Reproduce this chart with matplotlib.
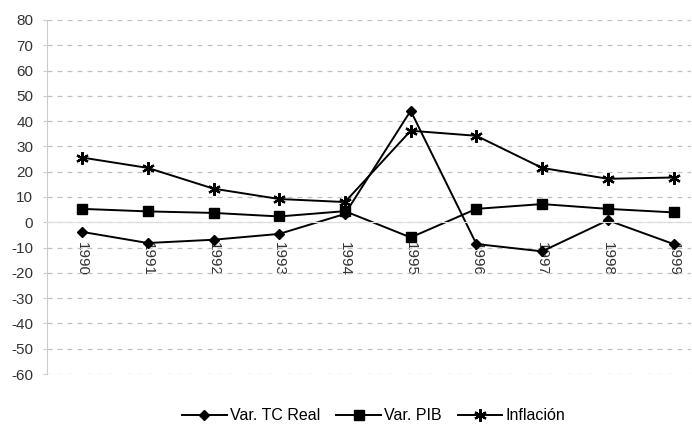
import matplotlib
matplotlib.use('Agg')
import matplotlib.pyplot as plt
import numpy as np

years = ['1990', '1991', '1992', '1993', '1994', '1995', '1996', '1997', '1998', '1999']
tc_real = [-3.8, -8.2, -6.9, -4.6, 3.3, 44.1, -8.6, -11.5, 0.8, -8.6]
pib = [5.3, 4.3, 3.7, 2.3, 4.4, -6.0, 5.3, 7.2, 5.3, 3.9]
inflacion = [25.6, 21.5, 13.3, 9.2, 8.0, 36.2, 34.2, 21.5, 17.2, 17.7]

plt.rcParams['font.family'] = ['Liberation Sans', 'DejaVu Sans']
plt.rcParams['axes.unicode_minus'] = False

fig = plt.figure(figsize=(6.92, 4.25), dpi=100)
ax = fig.add_axes([0.068, 0.12, 0.93, 0.833])

x = np.arange(len(years))
ax.plot(x, tc_real, color='black', lw=1.4, marker='D', ms=5.5, label='Var. TC Real')
ax.plot(x, pib, color='black', lw=1.4, marker='s', ms=7, label='Var. PIB')
ax.plot(x, inflacion, color='black', lw=1.4, marker=(6, 2, 0), ms=9, mew=1.6, label='Inflación')

ax.set_ylim(-60, 80)
ax.set_xlim(-0.533, 9.26)
ax.set_yticks(np.arange(-60, 81, 10))
ax.yaxis.grid(True, color='#c0c0c0', ls=(0, (4, 4)), lw=0.9)
ax.set_axisbelow(True)

ax.spines['bottom'].set_position(('data', 0))
ax.spines['bottom'].set_color('#dddddd')
for s in ('top', 'right'):
    ax.spines[s].set_visible(False)
ax.spines['left'].set_color('#cccccc')

ax.set_xticks(x)
ax.set_xticklabels(years)
for lbl in ax.get_xticklabels():
    lbl.set_rotation(-90)
    lbl.set_va('top')
    lbl.set_ha('center')
ax.tick_params(axis='x', length=0, pad=14, labelsize=11, labelcolor='#333333')
ax.tick_params(axis='y', length=3, color='#cccccc', labelsize=11, labelcolor='#333333', pad=7)

fig.legend(loc='lower center', bbox_to_anchor=(0.54, -0.03), ncol=3, frameon=False,
           fontsize=11.5, handlelength=2.8, columnspacing=1.0, handletextpad=0.2)

fig.savefig('out.png', dpi=100)
